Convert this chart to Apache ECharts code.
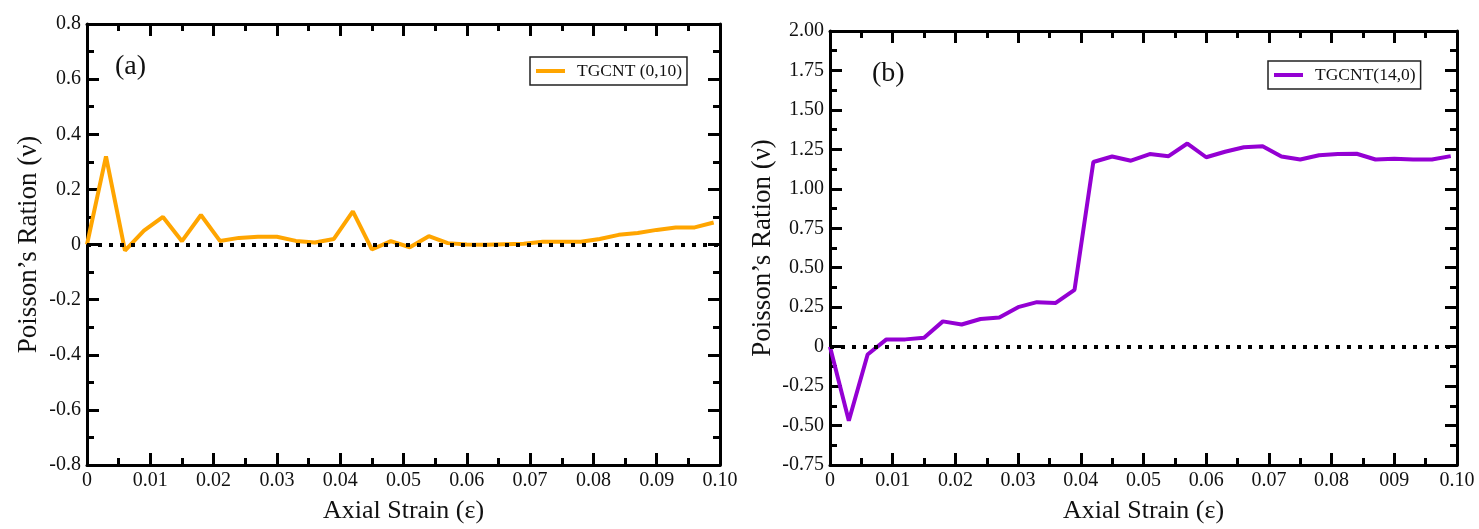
<!DOCTYPE html>
<html>
<head>
<meta charset="utf-8">
<script src="https://cdn.jsdelivr.net/npm/echarts@6/dist/echarts.min.js"></script>
<style>
  html, body { margin: 0; padding: 0; background: #fff; }
  #chart { width: 1479px; height: 529px; }
</style>
</head>
<body>
<div id="chart"></div>
<script>
// axial strain sample points (same for both panels)
const strain = [0, 0.003, 0.006, 0.009, 0.012, 0.015, 0.018, 0.021, 0.024, 0.027,
  0.030, 0.033, 0.036, 0.039, 0.042, 0.045, 0.048, 0.051, 0.054, 0.057,
  0.060, 0.063, 0.066, 0.069, 0.072, 0.075, 0.078, 0.081, 0.084, 0.087,
  0.090, 0.093, 0.096, 0.099];

// (a) TGCNT (0,10)
const nuA = [0, 0.32, -0.022, 0.05, 0.10, 0.012, 0.107, 0.013, 0.024, 0.028,
  0.028, 0.013, 0.007, 0.02, 0.12, -0.018, 0.012, -0.01, 0.03, 0.005,
  0, -0.001, 0.001, 0.003, 0.01, 0.01, 0.01, 0.02, 0.035, 0.042,
  0.053, 0.062, 0.062, 0.08];

// (b) TGCNT(14,0)
const nuB = [0, -0.47, -0.05, 0.046, 0.046, 0.057, 0.16, 0.14, 0.175, 0.185,
  0.25, 0.282, 0.277, 0.36, 1.17, 1.205, 1.178, 1.22, 1.207, 1.287,
  1.2, 1.235, 1.263, 1.27, 1.205, 1.186, 1.213, 1.22, 1.222, 1.186,
  1.19, 1.185, 1.186, 1.207];

const nameA = 'TGCNT (0,10)';
const nameB = 'TGCNT(14,0)';

// tick labels as printed in the figure
const xTicksA = ['0', '0.01', '0.02', '0.03', '0.04', '0.05', '0.06', '0.07', '0.08', '0.09', '0.10'];
const xTicksB = ['0', '0.01', '0.02', '0.03', '0.04', '0.05', '0.06', '0.07', '0.08', '009', '0.10'];
const yTicksA = ['-0.8', '-0.6', '-0.4', '-0.2', '0', '0.2', '0.4', '0.6', '0.8'];
const yTicksB = ['-0.75', '-0.50', '-0.25', '0', '0.25', '0.50', '0.75', '1.00', '1.25', '1.50', '1.75', '2.00'];

const serif = '"Liberation Serif", "Times New Roman", serif';
const ink = '#000';

function frameAxis(extra) {
  return Object.assign({
    type: 'value',
    axisLine: { show: true, onZero: false, lineStyle: { color: ink, width: 3 } },
    axisTick: { show: true, inside: true, length: 12, lineStyle: { color: ink, width: 3 } },
    minorTick: { show: true, splitNumber: 2, length: 7, lineStyle: { color: ink, width: 3 } },
    splitLine: { show: false },
    axisLabel: { show: false }
  }, extra);
}

function labels(list) {
  return {
    show: true, margin: 6, color: '#111',
    fontFamily: serif, fontSize: 20,
    formatter: (v, i) => list[i]
  };
}

const xName = {
  name: 'Axial Strain (\u03b5)', nameLocation: 'middle', nameGap: 33,
  nameTextStyle: { fontFamily: serif, fontSize: 26, color: '#111' }
};
const yName = {
  name: 'Poisson\u2019s Ration (\u03bd)', nameLocation: 'middle',
  nameTextStyle: { fontFamily: serif, fontSize: 27, color: '#111' }
};

const zeroLine = {
  silent: true, symbol: 'none', label: { show: false },
  lineStyle: { color: ink, width: 4, type: [4, 7] },
  data: [{ yAxis: 0 }]
};

const chart = echarts.init(document.getElementById('chart'));
chart.setOption({
  animation: false,
  backgroundColor: '#fff',
  grid: [
    { left: 87, right: 759, top: 24, bottom: 61 },
    { left: 830, right: 22, top: 31, bottom: 59 }
  ],
  xAxis: [
    frameAxis(Object.assign({ gridIndex: 0, position: 'bottom', min: 0, max: 0.1, interval: 0.01,
      axisLabel: labels(xTicksA) }, xName)),
    frameAxis({ gridIndex: 0, position: 'top', min: 0, max: 0.1, interval: 0.01 }),
    frameAxis(Object.assign({ gridIndex: 1, position: 'bottom', min: 0, max: 0.1, interval: 0.01,
      axisLabel: labels(xTicksB) }, xName)),
    frameAxis({ gridIndex: 1, position: 'top', min: 0, max: 0.1, interval: 0.01 })
  ],
  yAxis: [
    frameAxis(Object.assign({ gridIndex: 0, position: 'left', min: -0.8, max: 0.8, interval: 0.2,
      axisLabel: labels(yTicksA), nameGap: 45 }, yName)),
    frameAxis({ gridIndex: 0, position: 'right', min: -0.8, max: 0.8, interval: 0.2 }),
    frameAxis(Object.assign({ gridIndex: 1, position: 'left', min: -0.75, max: 2, interval: 0.25,
      axisLabel: labels(yTicksB), nameGap: 54 }, yName)),
    frameAxis({ gridIndex: 1, position: 'right', min: -0.75, max: 2, interval: 0.25 })
  ],
  legend: [
    {
      data: [nameA], left: 530, top: 57, icon: 'rect', itemWidth: 29, itemHeight: 4, itemGap: 0,
      padding: [5, 5, 5, 6], borderColor: '#222', borderWidth: 1.5, borderRadius: 0,
      textStyle: { fontFamily: serif, fontSize: 17.5, color: '#111', padding: [0, 0, 0, 7] }
    },
    {
      data: [nameB], left: 1268, top: 61, icon: 'rect', itemWidth: 29, itemHeight: 4, itemGap: 0,
      padding: [5, 5, 5, 6], borderColor: '#222', borderWidth: 1.5, borderRadius: 0,
      textStyle: { fontFamily: serif, fontSize: 17.5, color: '#111', padding: [0, 0, 0, 7] }
    }
  ],
  graphic: [
    { type: 'text', left: 115, top: 53, style: { text: '(a)', font: '28px ' + serif, fill: '#111' } },
    { type: 'text', left: 872, top: 60, style: { text: '(b)', font: '28px ' + serif, fill: '#111' } }
  ],
  series: [
    {
      name: nameA, type: 'line', xAxisIndex: 0, yAxisIndex: 0,
      data: strain.map((x, i) => [x, nuA[i]]),
      showSymbol: false, symbol: 'none', color: '#FFA500',
      lineStyle: { color: '#FFA500', width: 4 },
      markLine: zeroLine
    },
    {
      name: nameB, type: 'line', xAxisIndex: 2, yAxisIndex: 2,
      data: strain.map((x, i) => [x, nuB[i]]),
      showSymbol: false, symbol: 'none', color: '#9400D3',
      lineStyle: { color: '#9400D3', width: 4 },
      markLine: zeroLine
    }
  ]
});
</script>
</body>
</html>
